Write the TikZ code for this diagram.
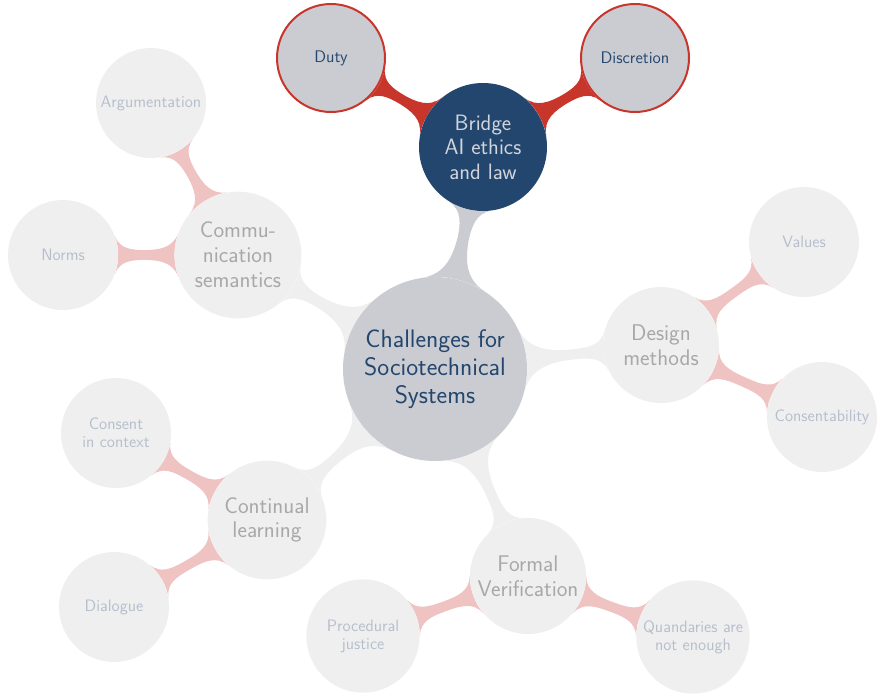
\documentclass[tikz,border=0pt]{standalone}
\usetikzlibrary{mindmap,backgrounds}
\definecolor{cgray}{HTML}{CBCCD1}
\definecolor{cblue}{HTML}{22466E}
\definecolor{cred}{HTML}{C8352B}
\definecolor{cfade}{HTML}{EFEFEF}
\definecolor{cpink}{HTML}{EEC3C1}
\definecolor{tgray}{HTML}{A8A8A8}
\definecolor{tlight}{HTML}{B5BECC}
\definecolor{tbridge}{HTML}{D2D5DC}
\tikzset{
  base/.style={circle,inner sep=0pt,align=center,font=\sffamily},
  rootc/.style={base,fill=cgray,text=cblue,minimum size=138pt,font=\sffamily\fontsize{19}{21}\selectfont},
  bridgec/.style={base,fill=cblue,text=tbridge,minimum size=96pt,font=\sffamily\fontsize{16.7}{18.4}\selectfont},
  redc/.style={base,fill=cgray,draw=cred,line width=1.5pt,text=cblue,minimum size=81pt,font=\sffamily\fontsize{12.6}{13.5}\selectfont},
  onec/.style={base,fill=cfade,text=tgray,font=\sffamily\fontsize{17}{18.6}\selectfont},
  twoc/.style={base,fill=cfade,text=tlight,minimum size=82.5pt,font=\sffamily\fontsize{12.4}{13.5}\selectfont},
  graybar/.style={line width=7.5pt,circle connection bar switch color=from (cfade) to (cfade)},
  pinkbar/.style={line width=7.5pt,circle connection bar switch color=from (cpink) to (cpink)},
}
\begin{document}
\begin{tikzpicture}[x=0.75pt,y=-0.75pt]
\useasboundingbox (0,0) rectangle (877,693);
\node[rootc] (root) at (435,369) {Challenges for\\Sociotechnical\\Systems};
\node[bridgec] (bridge) at (483,147) {Bridge\\AI ethics\\and law};
\node[redc] (duty) at (331,58) {Duty};
\node[redc] (disc) at (635,58) {Discretion};
\node[onec,minimum size=95pt] (comm) at (238,255) {Commu-\\nication\\semantics};
\node[twoc] (arg) at (151,103) {Argumentation};
\node[twoc] (norms) at (63,255) {Norms};
\node[onec,minimum size=87pt] (design) at (661,345) {Design\\methods};
\node[twoc] (values) at (804,242) {Values};
\node[twoc] (consent) at (822,417) {Consentability};
\node[onec,minimum size=89pt] (cont) at (267,520) {Continual\\learning};
\node[twoc] (context) at (116,433) {Consent\\in context};
\node[twoc] (dialogue) at (114,607) {Dialogue};
\node[onec,minimum size=87pt] (formal) at (528,576) {Formal\\Verification};
\node[twoc,minimum size=85pt] (proc) at (363,636) {Procedural\\justice};
\node[twoc,minimum size=85pt] (quand) at (693,637) {Quandaries are\\not enough};
\begin{scope}[on background layer]
\path (root) to[line width=7.5pt,circle connection bar switch color=from (cgray) to (cgray)] (bridge);
\path (bridge) to[line width=8.5pt,circle connection bar switch color=from (cred) to (cred)] (duty);
\path (bridge) to[line width=8.5pt,circle connection bar switch color=from (cred) to (cred)] (disc);
\path (root) to[graybar] (comm);
\path (root) to[graybar] (design);
\path (root) to[graybar] (cont);
\path (root) to[graybar] (formal);
\path (comm) to[pinkbar] (arg);
\path (comm) to[pinkbar] (norms);
\path (design) to[pinkbar] (values);
\path (design) to[pinkbar] (consent);
\path (cont) to[pinkbar] (context);
\path (cont) to[pinkbar] (dialogue);
\path (formal) to[pinkbar] (proc);
\path (formal) to[pinkbar] (quand);
\end{scope}
\end{tikzpicture}
\end{document}
